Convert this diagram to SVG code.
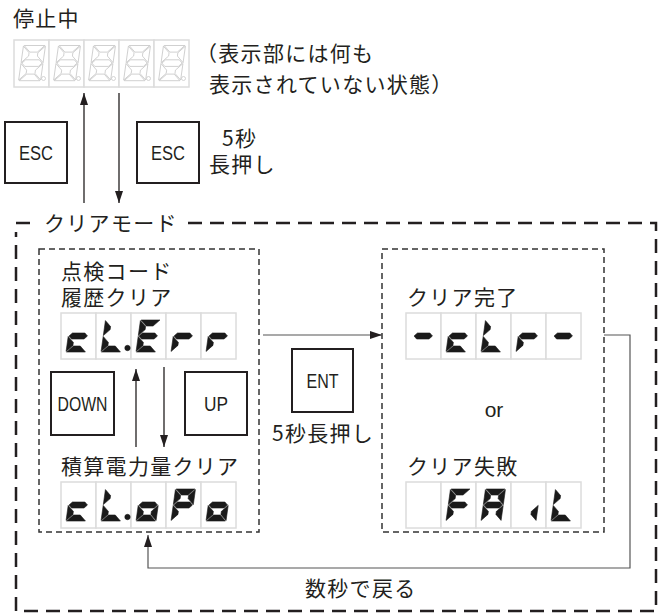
<svg xmlns="http://www.w3.org/2000/svg" xmlns:xlink="http://www.w3.org/1999/xlink" width="663" height="613" viewBox="0 0 663 613">
<style>
.jp{font-family:"Noto Sans CJK JP","Noto Sans CJK SC",sans-serif;font-size:21px;fill:#231f20;letter-spacing:1.3px}
.btn{font-family:"Liberation Sans",Arial,sans-serif;font-size:20px;fill:#231f20;text-anchor:middle}
.key{fill:#fff;stroke:#231f20;stroke-width:2}
.cell{fill:#fff;stroke:#dcdcdc;stroke-width:1.5}
.on{fill:#1a1a1a;stroke:#1a1a1a;stroke-width:0.6;stroke-linejoin:round}
.off{fill:none;stroke:#c4c4c4;stroke-width:0.7}
.outer{fill:none;stroke:#231f20;stroke-width:2.5;stroke-dasharray:14 8}
.inner{fill:none;stroke:#333;stroke-width:1.5;stroke-dasharray:6 4}
.con{fill:none;stroke:#555;stroke-width:1.2}
.conk{fill:none;stroke:#231f20;stroke-width:1.3}
</style>
<defs>
<polygon id="sa" points="0.6,0 19.4,0 13.4,6 6.6,6"/>
<polygon id="sg" points="0.8,16 3.8,13 16.2,13 19.2,16 16.2,19 3.8,19"/>
<polygon id="sd" points="0.6,32 19.4,32 13.4,26 6.6,26"/>
<polygon id="sf" points="0,0.6 6,6.6 6,9.6 0,15.6"/>
<polygon id="sb" points="20,0.6 14,6.6 14,9.6 20,15.6"/>
<polygon id="se" points="0,16.4 6,22.4 6,25.4 0,31.4"/>
<polygon id="sc" points="20,16.4 14,22.4 14,25.4 20,31.4"/>
<g id="ch-8" transform="skewX(-8)"><use href="#sa"/><use href="#sb"/><use href="#sc"/><use href="#sd"/><use href="#se"/><use href="#sf"/><use href="#sg"/></g>
<g id="ch-c" transform="skewX(-8)"><use href="#sg"/><use href="#se"/><use href="#sd"/></g>
<g id="ch-L" transform="skewX(-8)"><use href="#sf"/><use href="#se"/><use href="#sd"/></g>
<g id="ch-E" transform="skewX(-8)"><use href="#sa"/><use href="#sf"/><use href="#sg"/><use href="#se"/><use href="#sd"/></g>
<g id="ch-r" transform="skewX(-8)"><use href="#sg"/><use href="#se"/></g>
<g id="ch-o" transform="skewX(-8)"><use href="#sg"/><use href="#sc"/><use href="#sd"/><use href="#se"/></g>
<g id="ch-P" transform="skewX(-8)"><use href="#sa"/><use href="#sb"/><use href="#sf"/><use href="#sg"/><use href="#se"/></g>
<g id="ch-F" transform="skewX(-8)"><use href="#sa"/><use href="#sf"/><use href="#sg"/><use href="#se"/></g>
<g id="ch-A" transform="skewX(-8)"><use href="#sa"/><use href="#sb"/><use href="#sc"/><use href="#se"/><use href="#sf"/><use href="#sg"/></g>
<g id="ch-i" transform="skewX(-8)"><use href="#sc"/></g>
<g id="ch-dash" transform="skewX(-8)"><use href="#sg"/></g>
<g id="cells46"><rect class="cell" x="0" y="0" width="35" height="46"/><rect class="cell" x="35" y="0" width="35" height="46"/><rect class="cell" x="70" y="0" width="35" height="46"/><rect class="cell" x="105" y="0" width="35" height="46"/><rect class="cell" x="140" y="0" width="35" height="46"/></g>
<marker id="ah" viewBox="0 0 12 8" refX="12" refY="4" markerWidth="12" markerHeight="8" markerUnits="userSpaceOnUse" orient="auto"><path d="M0,0 L12,4 L0,8 Z" fill="#231f20"/></marker>
</defs>

<!-- Stopped state -->
<g id="stopped">
<text class="jp" x="13" y="26">停止中</text>
<g transform="translate(14,40)">
<rect class="cell" x="0" y="0" width="35" height="47"/><rect class="cell" x="35" y="0" width="35" height="47"/><rect class="cell" x="70" y="0" width="35" height="47"/><rect class="cell" x="105" y="0" width="35" height="47"/><rect class="cell" x="140" y="0" width="35" height="47"/>
<g class="off">
<use href="#ch-8" transform="translate(9.5,5.5) scale(1.1)"/>
<use href="#ch-8" transform="translate(44.5,5.5) scale(1.1)"/>
<use href="#ch-8" transform="translate(79.5,5.5) scale(1.1)"/>
<use href="#ch-8" transform="translate(114.5,5.5) scale(1.1)"/>
<use href="#ch-8" transform="translate(149.5,5.5) scale(1.1)"/>
<circle cx="29.5" cy="38.5" r="2"/><circle cx="64.5" cy="38.5" r="2"/><circle cx="99.5" cy="38.5" r="2"/><circle cx="134.5" cy="38.5" r="2"/><circle cx="169.5" cy="38.5" r="2"/>
</g>
</g>
<text class="jp" x="196" y="61">（表示部には何も</text>
<text class="jp" x="209" y="92">表示されていない状態）</text>
</g>

<g id="esc-left">
<rect class="key" x="5" y="122" width="62" height="61"/>
<text class="btn" x="36" y="160" textLength="34" lengthAdjust="spacingAndGlyphs">ESC</text>
</g>
<g id="esc-right">
<rect class="key" x="137" y="122" width="62" height="61"/>
<text class="btn" x="168" y="160" textLength="34" lengthAdjust="spacingAndGlyphs">ESC</text>
<text class="jp" x="222" y="146">5秒</text>
<text class="jp" x="209" y="172">長押し</text>
</g>

<!-- Clear mode frame -->
<g id="clear-mode">
<path class="outer" d="M188,223 H656 V611 H16 V232"/>
<path class="outer" d="M16,223 H31"/>
<text class="jp" x="44" y="231">クリアモード</text>
</g>

<g id="clear-select">
<rect class="inner" x="39" y="249" width="220" height="283"/>
<text class="jp" x="61" y="279">点検コード</text>
<text class="jp" x="61" y="305">履歴クリア</text>
</g>

<g id="disp-clerr" transform="translate(61,313)">
<use href="#cells46"/>
<g class="on">
<use href="#ch-c" transform="translate(9.5,7)"/>
<use href="#ch-L" transform="translate(44.5,7)"/>
<circle cx="66.5" cy="35" r="2.7"/>
<use href="#ch-E" transform="translate(79.5,7)"/>
<use href="#ch-r" transform="translate(114.5,7)"/>
<use href="#ch-r" transform="translate(149.5,7)"/>
</g>
</g>

<g id="down">
<rect class="key" x="51" y="372" width="63" height="63"/>
<text class="btn" x="82.5" y="411" textLength="50" lengthAdjust="spacingAndGlyphs">DOWN</text>
</g>
<g id="up">
<rect class="key" x="185" y="372" width="62" height="63"/>
<text class="btn" x="216" y="411" textLength="24" lengthAdjust="spacingAndGlyphs">UP</text>
</g>

<g id="label-energy">
<text class="jp" x="61" y="474">積算電力量クリア</text>
</g>
<g id="disp-clopo" transform="translate(61,482)">
<use href="#cells46"/>
<g class="on">
<use href="#ch-c" transform="translate(9.5,7)"/>
<use href="#ch-L" transform="translate(44.5,7)"/>
<circle cx="66.5" cy="35" r="2.7"/>
<use href="#ch-o" transform="translate(79.5,7)"/>
<use href="#ch-P" transform="translate(114.5,7)"/>
<use href="#ch-o" transform="translate(149.5,7)"/>
</g>
</g>

<g id="ent">
<rect class="key" x="292" y="349" width="61" height="63"/>
<text class="btn" x="322.5" y="388" textLength="32" lengthAdjust="spacingAndGlyphs">ENT</text>
<text class="jp" x="272" y="441">5秒長押し</text>
</g>

<g id="result">
<rect class="inner" x="382" y="249" width="222" height="283"/>
<text class="jp" x="407" y="305">クリア完了</text>
<text x="494" y="417" style="font-family:'Liberation Sans',Arial,sans-serif;font-size:21px;fill:#231f20;text-anchor:middle">or</text>
<text class="jp" x="407" y="474">クリア失敗</text>
</g>
<g id="disp-clr" transform="translate(406,313)">
<use href="#cells46"/>
<g class="on">
<use href="#ch-dash" transform="translate(9.5,7)"/>
<use href="#ch-c" transform="translate(44.5,7)"/>
<use href="#ch-L" transform="translate(79.5,7)"/>
<use href="#ch-r" transform="translate(114.5,7)"/>
<use href="#ch-dash" transform="translate(149.5,7)"/>
</g>
</g>
<g id="disp-fail" transform="translate(406,482)">
<use href="#cells46"/>
<g class="on">
<use href="#ch-F" transform="translate(44.5,7)"/>
<use href="#ch-A" transform="translate(79.5,7)"/>
<use href="#ch-i" transform="translate(114.5,7)"/>
<use href="#ch-L" transform="translate(149.5,7)"/>
</g>
</g>

<g id="connectors">
<path class="conk" d="M84,203 V93" marker-end="url(#ah)"/>
<path class="conk" d="M119,93 V203" marker-end="url(#ah)"/>
<path class="conk" d="M136,447 V369" marker-end="url(#ah)"/>
<path class="conk" d="M164,367 V447" marker-end="url(#ah)"/>
<path class="con" d="M263,335 H382" marker-end="url(#ah)"/>
<path class="con" d="M604,335 H630 V568 H148 V535" marker-end="url(#ah)"/>
<text class="jp" x="305" y="596">数秒で戻る</text>
</g>
</svg>
